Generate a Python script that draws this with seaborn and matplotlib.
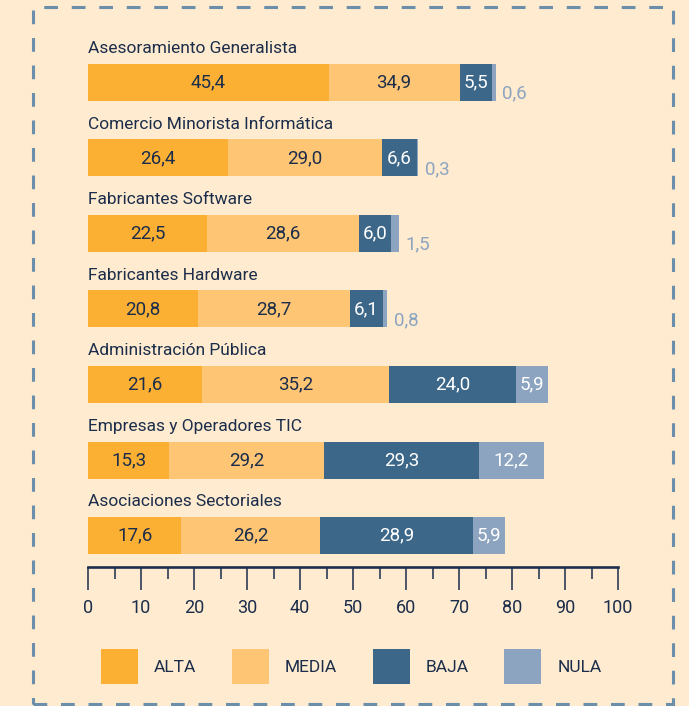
import matplotlib.pyplot as plt
import pandas as pd
import seaborn as sns
from matplotlib.patches import Patch, Rectangle
from matplotlib.ticker import MultipleLocator

sns.set_theme(style="white")

categories = [
    "Asesoramiento Generalista",
    "Comercio Minorista Informática",
    "Fabricantes Software",
    "Fabricantes Hardware",
    "Administración Pública",
    "Empresas y Operadores TIC",
    "Asociaciones Sectoriales",
]
alta = [45.4, 26.4, 22.5, 20.8, 21.6, 15.3, 17.6]
media = [34.9, 29.0, 28.6, 28.7, 35.2, 29.2, 26.2]
baja = [5.5, 6.6, 6.0, 6.1, 24.0, 29.3, 28.9]
nula = [0.6, 0.3, 1.5, 0.8, 5.9, 12.2, 5.9]
series_names = ["ALTA", "MEDIA", "BAJA", "NULA"]

# the source draws the first MEDIA segment (and its neighbours) shorter than labelled
drawn = {
    "ALTA": alta,
    "MEDIA": [24.7] + media[1:],
    "BAJA": [6.2] + baja[1:],
    "NULA": nula,
}
labels = {"ALTA": alta, "MEDIA": media, "BAJA": baja, "NULA": nula}

colors = {"ALTA": "#FBB034", "MEDIA": "#FEC574", "BAJA": "#3C6789", "NULA": "#8CA4C0"}
text_colors = {"ALTA": "#1B2D4A", "MEDIA": "#1B2D4A", "BAJA": "white", "NULA": "white"}
bg = "#FEEBD0"
navy = "#1B2D4A"
font = ["Roboto", "DejaVu Sans"]

W, H = 689, 706
fig = plt.figure(figsize=(W / 100, H / 100), dpi=100, facecolor=bg)
ax = fig.add_axes([88 / W, (H - 567) / H, 530 / W, (567 - 30) / H])
ax.set_facecolor(bg)

# stacked bars drawn as layered cumulative totals
df = pd.DataFrame(drawn, index=categories)
cum = df.cumsum(axis=1)
for name in reversed(series_names):
    sns.barplot(x=cum[name].values, y=categories, order=categories, orient="h",
                color=colors[name], saturation=1, width=0.49, linewidth=0, ax=ax)

for i, cat in enumerate(categories):
    left = 0
    for name in series_names:
        w = drawn[name][i]
        val = labels[name][i]
        txt = f"{val:.1f}".replace(".", ",")
        if val >= 2:
            ax.text(left + w / 2, i, txt, ha="center", va="center", fontsize=13.5,
                    color=text_colors[name], family=font)
        else:
            ax.text(left + w + 1.3, i + 0.15, txt, ha="left", va="center", fontsize=13.5,
                    color="#8CA4C0", family=font)
        left += w
    ax.text(0, i - 0.39, cat, ha="left", va="baseline", fontsize=12.5,
            color=navy, family=font)

ax.set_xlim(0, 100)
ax.set_ylim(6.417, -0.695)
ax.set_yticks([])
ax.set_ylabel("")
ax.set_xlabel("")
for s in ["top", "left", "right"]:
    ax.spines[s].set_visible(False)
ax.spines["bottom"].set_color(navy)
ax.spines["bottom"].set_linewidth(1.9)
ax.xaxis.set_major_locator(MultipleLocator(10))
ax.xaxis.set_minor_locator(MultipleLocator(5))
ax.tick_params(axis="x", which="major", direction="out", length=16.5, width=1.1,
               color=navy, labelcolor=navy, labelsize=13, pad=6.5, bottom=True)
ax.tick_params(axis="x", which="minor", direction="out", length=8.5, width=1.1,
               color=navy, bottom=True)
for lab in ax.get_xticklabels():
    lab.set_family(font)

handles = [Patch(facecolor=colors[n], edgecolor="none", label=n) for n in series_names]
leg = fig.legend(handles=handles, loc="upper left", bbox_to_anchor=(101 / W, (H - 649) / H),
                 bbox_transform=fig.transFigure, ncol=4, frameon=False, borderpad=0,
                 borderaxespad=0, handlelength=2.13, handleheight=2.75, handletextpad=0.92,
                 columnspacing=2.05, prop={"family": font, "size": 12.5})
for t in leg.get_texts():
    t.set_color(navy)

# dashed frame
fig.patches.append(Rectangle((33 / W, (H - 704) / H), 640 / W, 697 / H,
                             transform=fig.transFigure, fill=False, edgecolor="#6B8EAB",
                             linewidth=2.2, linestyle=(0, (4.5, 4.5))))

fig.savefig("out.png", dpi=100, facecolor=bg)
